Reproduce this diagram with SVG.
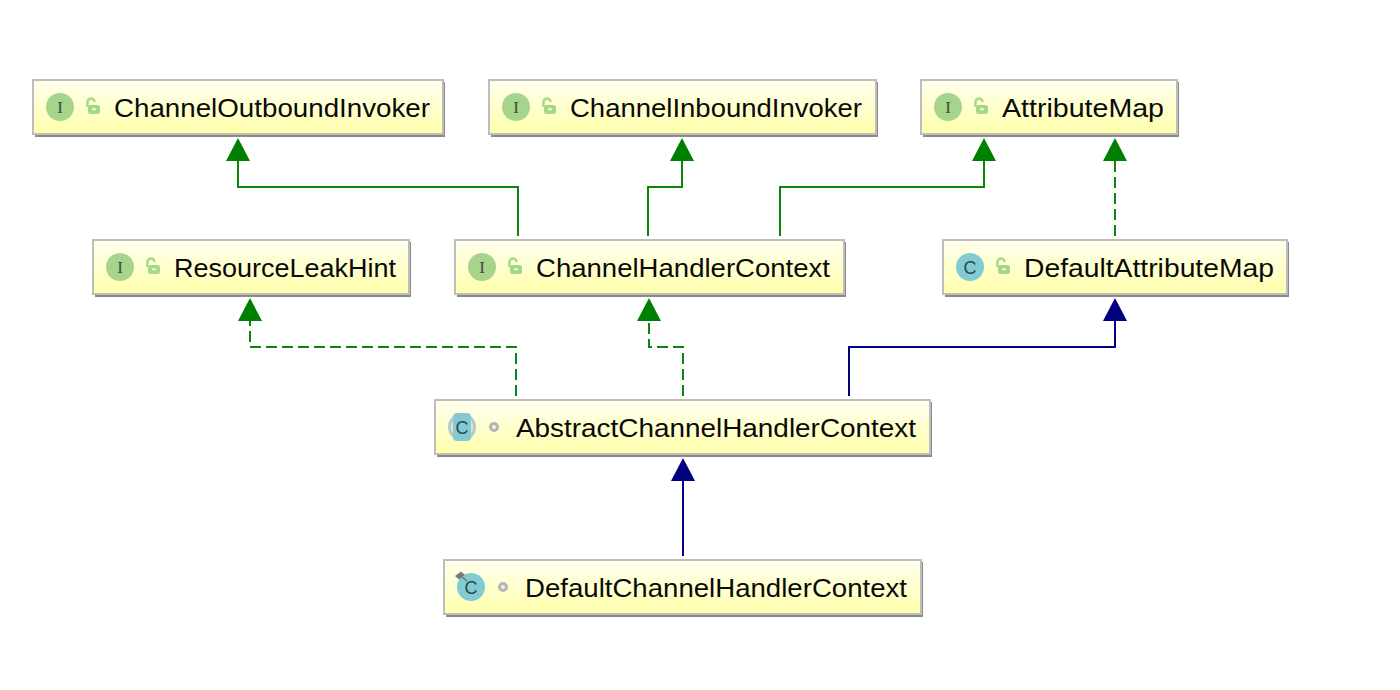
<svg xmlns="http://www.w3.org/2000/svg" width="1400" height="690" viewBox="0 0 1400 690">
<style>
.box{fill:url(#g);stroke:#bdbdbd;stroke-width:2}
.sh{fill:#8a8a8a}
.t{font-family:"Liberation Sans",Arial,sans-serif;font-size:26.5px;fill:#0a0a0a}
.l{font-family:"Liberation Serif",serif;font-size:17px;fill:#3c4a3c;text-anchor:middle}
.c{font-family:"Liberation Sans",Arial,sans-serif;font-size:18px;fill:#2f4650;text-anchor:middle}
.i{fill:#a7d48b}
.k{fill:#82cbd3}
.lk{fill:none;stroke:#a5d98a;stroke-width:2.500}
.lb{fill:#a5d98a}
.gr{fill:none;stroke:#0a850a;stroke-width:2}
.bl{fill:none;stroke:#000080;stroke-width:2}
.d{stroke-dasharray:11 5}
.ag{fill:#008000}
.ab{fill:#000080}
</style>
<defs>
<linearGradient id="g" x1="0" y1="0" x2="0" y2="1"><stop offset="0" stop-color="#ffffee"/><stop offset="0.6" stop-color="#ffffc8"/><stop offset="1" stop-color="#ffffa8"/></linearGradient>
<g id="lock"><path class="lk" d="M-4.500 -1V-6a3.500 3.500 0 0 1 7 0"/><rect class="lb" x="-4" y="-3" width="12" height="9" rx="2.500"/><rect x="0" y="0.500" width="4" height="1.600" fill="#ffffd8"/></g>
</defs>
<rect width="1400" height="690" fill="#fff"/>
<g id="connectors">
<path class="gr" d="M518 236V187H238V160"/><path class="ag" d="M238 138l-12 23h24z"/>
<path class="gr" d="M648 236V187H682V160"/><path class="ag" d="M682 138l-12 23h24z"/>
<path class="gr" d="M780 236V187H984V160"/><path class="ag" d="M984 138l-12 23h24z"/>
<path class="gr d" d="M1115 236V160"/><path class="ag" d="M1115 138l-12 23h24z"/>
<path class="gr d" d="M516 396V347H250V320"/><path class="ag" d="M250 298l-12 23h24z"/>
<path class="gr d" d="M683 396V347H649V320"/><path class="ag" d="M649 298l-12 23h24z"/>
<path class="bl" d="M849 396V347H1115V320"/><path class="ab" d="M1115 298l-12 23h24z"/>
<path class="bl" d="M683 556V480"/><path class="ab" d="M683 458l-12 23h24z"/>
</g>
<g id="ChannelOutboundInvoker">
<rect class="sh" x="35" y="82" width="410" height="55"/><rect class="box" x="33" y="80" width="410" height="54"/>
<circle class="i" cx="60" cy="107" r="14"/><text class="l" x="60" y="113">I</text><use href="#lock" x="92" y="108"/>
<text class="t" x="114" y="117" textLength="316" lengthAdjust="spacingAndGlyphs">ChannelOutboundInvoker</text></g>
<g id="ChannelInboundInvoker">
<rect class="sh" x="491" y="82" width="387" height="55"/><rect class="box" x="489" y="80" width="387" height="54"/>
<circle class="i" cx="516" cy="107" r="14"/><text class="l" x="516" y="113">I</text><use href="#lock" x="548" y="108"/>
<text class="t" x="570" y="117" textLength="292" lengthAdjust="spacingAndGlyphs">ChannelInboundInvoker</text></g>
<g id="AttributeMap">
<rect class="sh" x="923" y="82" width="256" height="55"/><rect class="box" x="921" y="80" width="256" height="54"/>
<circle class="i" cx="948" cy="107" r="14"/><text class="l" x="948" y="113">I</text><use href="#lock" x="980" y="108"/>
<text class="t" x="1002" y="117" textLength="162" lengthAdjust="spacingAndGlyphs">AttributeMap</text></g>
<g id="ResourceLeakHint">
<rect class="sh" x="95" y="242" width="316" height="55"/><rect class="box" x="93" y="240" width="316" height="54"/>
<circle class="i" cx="120" cy="267" r="14"/><text class="l" x="120" y="273">I</text><use href="#lock" x="152" y="268"/>
<text class="t" x="174" y="277" textLength="222" lengthAdjust="spacingAndGlyphs">ResourceLeakHint</text></g>
<g id="ChannelHandlerContext">
<rect class="sh" x="457" y="242" width="389" height="55"/><rect class="box" x="455" y="240" width="389" height="54"/>
<circle class="i" cx="482" cy="267" r="14"/><text class="l" x="482" y="273">I</text><use href="#lock" x="514" y="268"/>
<text class="t" x="536" y="277" textLength="294" lengthAdjust="spacingAndGlyphs">ChannelHandlerContext</text></g>
<g id="DefaultAttributeMap">
<rect class="sh" x="945" y="242" width="344" height="55"/><rect class="box" x="943" y="240" width="344" height="54"/>
<circle class="k" cx="970" cy="267" r="14"/><text class="c" x="970" y="273.500">C</text><use href="#lock" x="1002" y="268"/>
<text class="t" x="1024" y="277" textLength="250" lengthAdjust="spacingAndGlyphs">DefaultAttributeMap</text></g>
<g id="AbstractChannelHandlerContext">
<rect class="sh" x="437" y="402" width="495" height="55"/><rect class="box" x="435" y="400" width="495" height="54"/>
<circle cx="462" cy="427" r="12.500" fill="#dfe6dc" stroke="#bcc8c4" stroke-width="3"/><rect class="k" x="453" y="413" width="18" height="28" rx="4"/><text class="c" x="462" y="433.500">C</text>
<circle cx="494" cy="427" r="3.500" fill="#f2f2e4" stroke="#b5b5b5" stroke-width="3"/>
<text class="t" x="516" y="437" textLength="400" lengthAdjust="spacingAndGlyphs">AbstractChannelHandlerContext</text></g>
<g id="DefaultChannelHandlerContext">
<rect class="sh" x="446" y="562" width="477" height="55"/><rect class="box" x="444" y="560" width="477" height="54"/>
<circle class="k" cx="471" cy="587" r="14"/><text class="c" x="471" y="593.500">C</text>
<path d="M455 576l6-4.500 4 3.500-6 4.500z" fill="#7a7a7a"/><path d="M462 577l5 4" stroke="#5f7f88" stroke-width="1.500"/>
<circle cx="503" cy="587" r="3.500" fill="#f2f2e4" stroke="#b5b5b5" stroke-width="3"/>
<text class="t" x="525" y="597" textLength="382" lengthAdjust="spacingAndGlyphs">DefaultChannelHandlerContext</text></g>
</svg>
